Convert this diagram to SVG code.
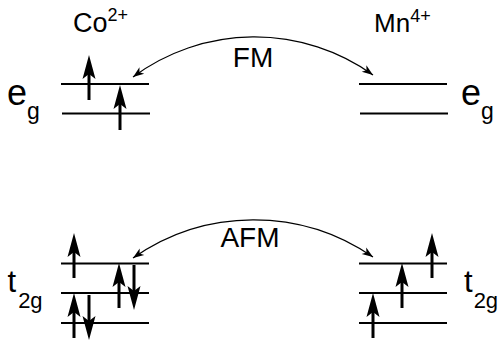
<svg xmlns="http://www.w3.org/2000/svg" xmlns:xlink="http://www.w3.org/1999/xlink" width="499" height="342" viewBox="0 0 499 342">
<style>
text{font-family:"Liberation Sans",Arial,sans-serif;fill:#000}
.lvl{stroke:#000;stroke-width:2;fill:none}
.shaft{stroke:#000;stroke-width:3}
.curve{stroke:#000;stroke-width:1.2;fill:none}
</style>
<defs>
<g id="up"><line class="shaft" x1="0" y1="45" x2="0" y2="18"/><path d="M0,0 L-6.5,24 L0,19 L6.5,24 Z" fill="#000"/></g>
<marker id="ah" markerUnits="userSpaceOnUse" viewBox="-12 -6 14 12" refX="0" refY="0" markerWidth="14" markerHeight="12" orient="auto-start-reverse">
<path d="M0,0 L-11,-4 L-8,0 L-11,4 Z" fill="#000"/>
</marker>
</defs>
<g id="co-label"><text x="73" y="32" font-size="27">Co<tspan font-size="18" dy="-11">2+</tspan></text></g>
<g id="mn-label"><text x="374" y="32" font-size="26">Mn<tspan font-size="18" dy="-10">4+</tspan></text></g>
<g id="co-eg">
<text x="7" y="104.5" font-size="36">e<tspan font-size="23" dy="14.5">g</tspan></text>
<line class="lvl" x1="61" y1="84" x2="149" y2="84"/>
<line class="lvl" x1="62" y1="113.5" x2="150" y2="113.5"/>
<use xlink:href="#up" x="89" y="55"/>
<use xlink:href="#up" x="120" y="85"/>
</g>
<g id="mn-eg">
<text x="461" y="104.5" font-size="36">e<tspan font-size="23" dy="14.5">g</tspan></text>
<line class="lvl" x1="359" y1="84" x2="447" y2="84"/>
<line class="lvl" x1="360" y1="113.5" x2="448" y2="113.5"/>
</g>
<g id="co-t2g">
<text x="7.5" y="292" font-size="31">t<tspan font-size="22" dx="2" dy="16">2g</tspan></text>
<line class="lvl" x1="61" y1="263.5" x2="149" y2="263.5"/>
<line class="lvl" x1="61" y1="293" x2="149" y2="293"/>
<line class="lvl" x1="61" y1="323" x2="149" y2="323"/>
<use xlink:href="#up" x="74" y="233"/>
<use xlink:href="#up" x="119" y="263"/>
<use xlink:href="#up" transform="translate(134,310) scale(1,-1)"/>
<use xlink:href="#up" x="74" y="293"/>
<use xlink:href="#up" transform="translate(89,340) scale(1,-1)"/>
</g>
<g id="mn-t2g">
<text x="464" y="292" font-size="31">t<tspan font-size="22" dx="1" dy="16">2g</tspan></text>
<line class="lvl" x1="359" y1="263.5" x2="447" y2="263.5"/>
<line class="lvl" x1="359" y1="293" x2="447" y2="293"/>
<line class="lvl" x1="359" y1="323" x2="447" y2="323"/>
<use xlink:href="#up" x="373" y="293"/>
<use xlink:href="#up" x="402" y="263"/>
<use xlink:href="#up" x="432" y="233"/>
</g>
<g id="connectors">
<path class="curve" d="M133,77 A204,204 0 0,1 373,75" marker-start="url(#ah)" marker-end="url(#ah)"/>
<text x="253" y="67" font-size="28" text-anchor="middle">FM</text>
<path class="curve" d="M133,258 A210,210 0 0,1 373,257" marker-start="url(#ah)" marker-end="url(#ah)"/>
<text x="250" y="247" font-size="28" text-anchor="middle">AFM</text>
</g>
</svg>
